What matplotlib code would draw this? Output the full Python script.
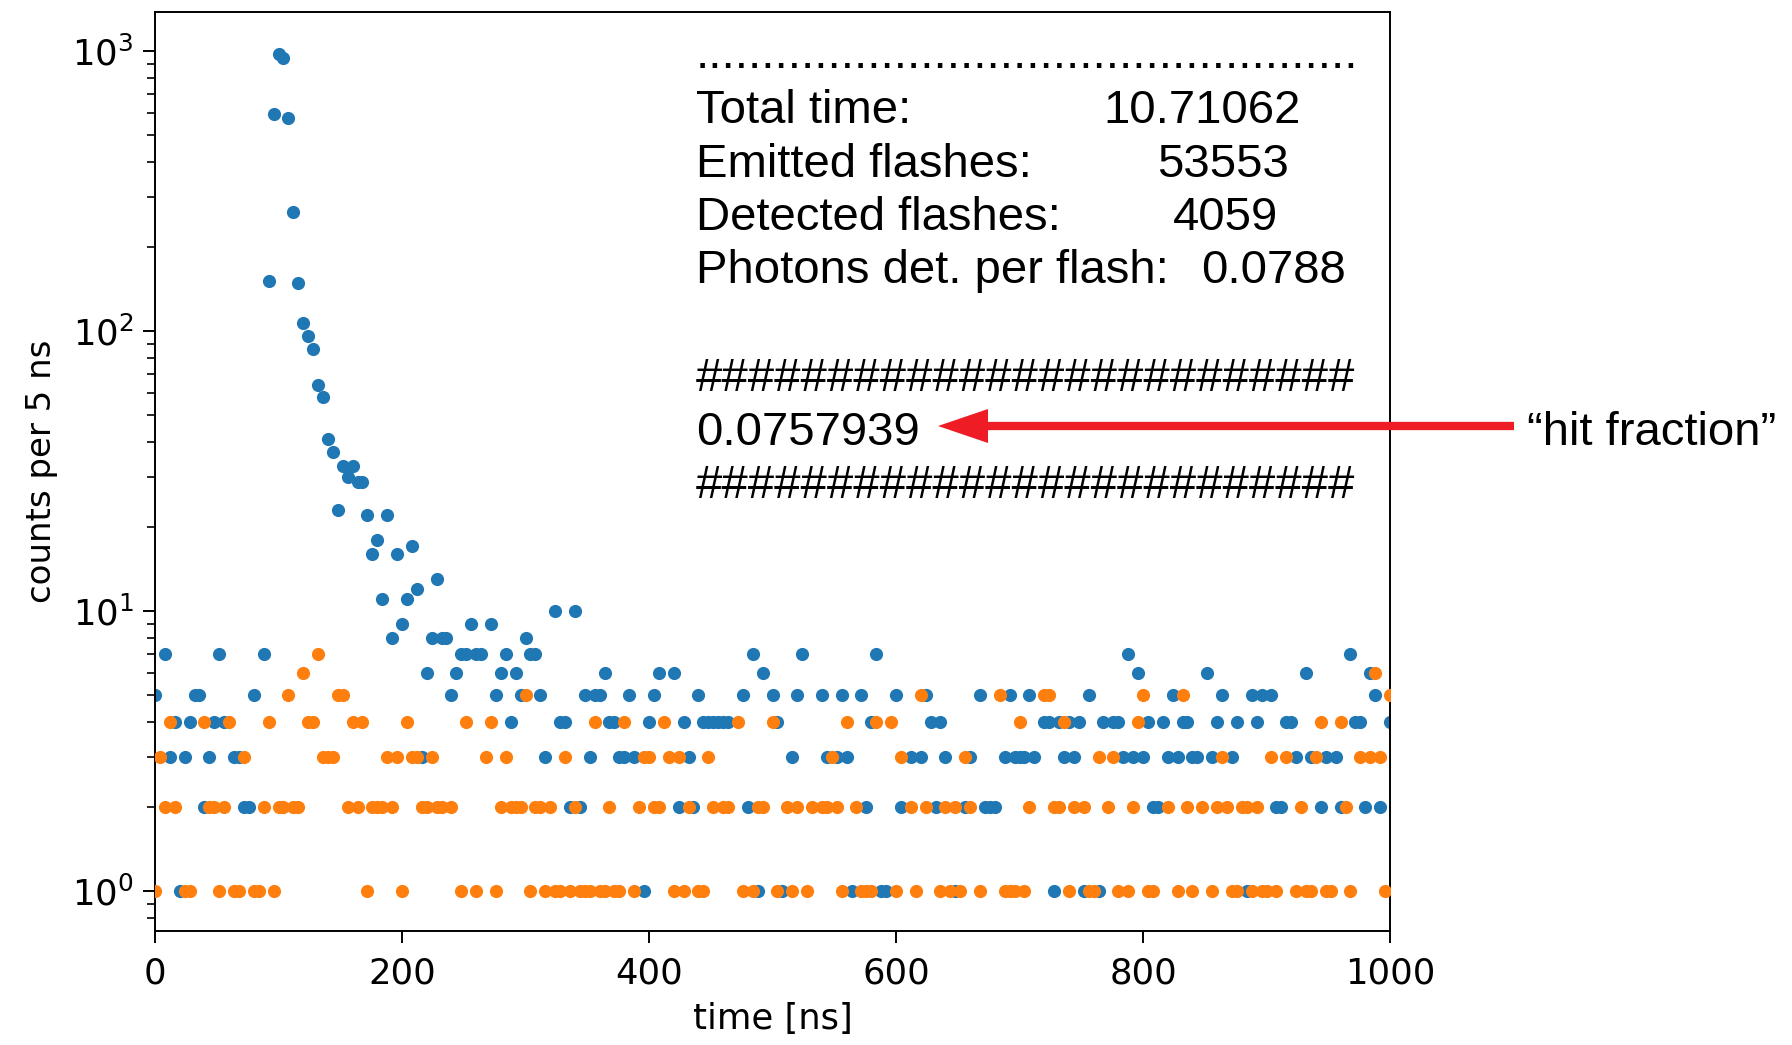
import numpy as np
import matplotlib
matplotlib.use("Agg")
import matplotlib.pyplot as plt
from matplotlib.patches import FancyArrow

# Histogram bin width used for the time axis (ns)
BIN_NS = 4

# Detector A (blue): bin index and counts (empty bins are omitted)
blue_bin = [0, 2, 3, 4, 5, 6, 7, 8, 9, 10, 11, 12, 13, 14, 16, 17, 18, 19, 20, 22,
            23, 24, 25, 26, 27, 28, 29, 30, 31, 32, 33, 34, 35, 36, 37, 38, 39, 40, 41, 42,
            43, 44, 45, 46, 47, 48, 49, 50, 51, 52, 53, 54, 55, 56, 57, 58, 59, 60, 61, 62,
            63, 64, 65, 66, 68, 69, 70, 71, 72, 73, 74, 75, 76, 77, 78, 79, 81, 82, 83, 84,
            85, 86, 87, 88, 89, 90, 91, 92, 93, 94, 95, 96, 97, 99, 100, 101, 102, 105, 106, 107,
            108, 109, 110, 111, 112, 113, 114, 115, 116, 119, 120, 121, 122, 123, 125, 126, 127, 129, 130, 131,
            135, 136, 138, 139, 140, 141, 143, 144, 145, 146, 147, 148, 150, 151, 153, 155, 156, 157, 158, 159,
            160, 162, 164, 165, 167, 168, 169, 170, 172, 173, 174, 175, 176, 177, 178, 180, 181, 182, 183, 184,
            185, 186, 187, 188, 189, 191, 192, 194, 195, 196, 197, 198, 199, 200, 201, 202, 203, 204, 205, 206,
            207, 208, 209, 210, 211, 213, 214, 215, 216, 218, 219, 221, 222, 223, 224, 226, 227, 228, 229, 230,
            231, 233, 234, 236, 237, 239, 240, 242, 243, 244, 245, 246, 247, 248, 250]
blue_counts = [5, 7, 3, 4, 1, 3, 4, 5, 5, 2, 3, 4, 7, 4, 3, 3, 2, 2, 5, 7,
               151, 597, 975, 946, 578, 266, 148, 107, 96, 86, 64, 58, 41, 37, 23, 33, 30, 33, 29, 29,
               22, 16, 18, 11, 22, 8, 16, 9, 11, 17, 12, 3, 6, 8, 13, 8, 8, 5, 6, 7,
               7, 9, 7, 7, 9, 5, 6, 7, 4, 6, 5, 8, 7, 7, 5, 3, 10, 4, 4, 2,
               10, 2, 5, 3, 5, 5, 6, 4, 4, 3, 3, 5, 3, 1, 4, 5, 6, 6, 2, 4,
               3, 2, 5, 4, 4, 4, 4, 4, 4, 5, 2, 7, 1, 6, 5, 4, 1, 3, 5, 7,
               5, 3, 3, 5, 3, 1, 5, 2, 4, 7, 1, 1, 5, 2, 3, 3, 5, 4, 2, 4,
               3, 1, 2, 3, 5, 2, 2, 2, 3, 5, 3, 3, 3, 5, 3, 4, 4, 1, 4, 3,
               4, 3, 4, 1, 5, 1, 4, 4, 4, 3, 7, 3, 6, 3, 4, 2, 2, 4, 3, 5,
               3, 4, 4, 3, 3, 6, 3, 4, 5, 3, 4, 1, 5, 4, 5, 5, 2, 2, 4, 4,
               3, 6, 3, 2, 3, 3, 2, 7, 4, 4, 2, 6, 5, 2, 4]

# Detector B (orange): bin index and counts (empty bins are omitted)
orange_bin = [0, 1, 2, 3, 4, 6, 7, 10, 11, 12, 13, 14, 15, 16, 17, 18, 20, 21, 22, 23,
              24, 25, 26, 27, 28, 29, 30, 31, 32, 33, 34, 35, 36, 37, 38, 39, 40, 41, 42, 43,
              44, 45, 46, 47, 48, 49, 50, 51, 52, 53, 54, 55, 56, 57, 58, 60, 62, 63, 65, 67,
              68, 69, 70, 71, 72, 73, 74, 75, 76, 77, 78, 79, 80, 81, 82, 83, 84, 85, 86, 87,
              88, 89, 90, 91, 92, 93, 94, 95, 97, 98, 99, 100, 101, 102, 103, 104, 105, 106, 107, 108,
              110, 111, 112, 113, 115, 116, 118, 119, 121, 122, 123, 125, 126, 128, 129, 130, 132, 133, 135, 136,
              137, 138, 139, 140, 142, 143, 144, 145, 146, 149, 150, 151, 153, 154, 155, 156, 159, 160, 161, 162,
              163, 164, 165, 167, 171, 172, 173, 174, 175, 176, 177, 180, 181, 182, 183, 184, 185, 186, 188, 189,
              190, 191, 193, 194, 195, 197, 198, 199, 200, 201, 202, 205, 207, 208, 209, 210, 212, 214, 215, 216,
              217, 218, 219, 220, 221, 222, 223, 224, 225, 226, 227, 229, 231, 232, 233, 234, 235, 236, 237, 238,
              240, 241, 242, 244, 246, 247, 248, 249, 250]
orange_counts = [1, 3, 2, 4, 2, 1, 1, 4, 2, 2, 1, 2, 4, 1, 1, 3, 1, 1, 2, 4,
                 1, 2, 2, 5, 2, 2, 6, 4, 4, 7, 3, 3, 3, 5, 5, 2, 4, 2, 4, 1,
                 2, 2, 2, 3, 2, 3, 1, 4, 3, 3, 2, 2, 3, 2, 2, 2, 1, 4, 1, 3,
                 4, 1, 2, 3, 2, 2, 2, 5, 1, 2, 2, 1, 2, 1, 1, 3, 1, 2, 1, 1,
                 1, 4, 1, 1, 2, 1, 1, 4, 1, 2, 3, 3, 2, 2, 4, 3, 1, 3, 1, 2,
                 1, 1, 3, 2, 2, 2, 4, 1, 1, 2, 2, 4, 1, 2, 1, 2, 1, 2, 2, 2,
                 3, 2, 1, 4, 2, 1, 1, 1, 4, 4, 1, 3, 2, 1, 5, 2, 1, 2, 1, 2,
                 1, 3, 2, 1, 5, 1, 1, 1, 4, 1, 2, 5, 5, 2, 2, 4, 1, 2, 2, 1,
                 1, 3, 2, 3, 1, 1, 2, 4, 5, 1, 1, 2, 1, 5, 2, 1, 2, 1, 2, 3,
                 2, 1, 1, 2, 2, 1, 2, 1, 1, 3, 1, 3, 1, 2, 1, 1, 3, 4, 1, 1,
                 4, 2, 1, 3, 3, 6, 3, 1, 5]

# Run summary printed next to the histogram
summary_labels = ["Total time:", "Emitted flashes:", "Detected flashes:", "Photons det. per flash:"]
summary_values = ["10.71062", "53553", "4059", "0.0788"]
hit_fraction = "0.0757939"
hit_label = "\u201chit fraction\u201d"

W, H = 1792, 1045
fig = plt.figure(figsize=(W / 100, H / 100), dpi=100)
fig.patch.set_facecolor("white")

ax = fig.add_axes([155 / W, 114 / H, 1235 / W, 919 / H])
ax.scatter(np.asarray(blue_bin) * BIN_NS, blue_counts, s=90, color="#1f77b4",
           linewidths=0, zorder=2)
ax.scatter(np.asarray(orange_bin) * BIN_NS, orange_counts, s=90, color="#ff7f0e",
           linewidths=0, zorder=3)
ax.set_yscale("log")
ax.set_xlim(0, 1000)
ax.set_ylim(0.72, 1377)
ax.set_xticks([0, 200, 400, 600, 800, 1000])
ax.set_xlabel("time [ns]", fontsize=25.5, labelpad=8)
ax.set_ylabel("counts per 5 ns", fontsize=24.5, labelpad=10)
ax.tick_params(which="major", labelsize=25.5, width=1.4, length=8.5, pad=7)
ax.tick_params(axis="x", which="major", pad=10)
ax.tick_params(which="minor", width=1.2, length=6)
for sp in ax.spines.values():
    sp.set_linewidth(1.4)

# Overlay in pixel units for the printed summary and the annotation arrow
ov = fig.add_axes([0, 0, 1, 1])
ov.set_xlim(0, W)
ov.set_ylim(H, 0)
ov.axis("off")
kw = dict(fontsize=34, family="Liberation Sans", va="baseline", ha="left", color="black")

ov.text(696, 68, "." * 50, **kw)
value_x = [1103, 1157, 1173, 1201]
for k, (lab, val) in enumerate(zip(summary_labels, summary_values)):
    y = 123.3 + 53.3 * k
    ov.text(696, y, lab, **kw)
    ov.text(value_x[k], y, val, **kw)
ov.text(696, 391, "#" * 25, **kw)
ov.text(696, 445, hit_fraction, **kw)
ov.text(696, 498, "#" * 25, **kw)

ov.add_patch(FancyArrow(1514, 426, 938 - 1514, 0, width=8.3, head_width=34,
                        head_length=50, length_includes_head=True,
                        color="#ee1c25", linewidth=0))
ov.text(1527, 445, hit_label, **kw)

fig.savefig("out.png", dpi=100, facecolor="white")
